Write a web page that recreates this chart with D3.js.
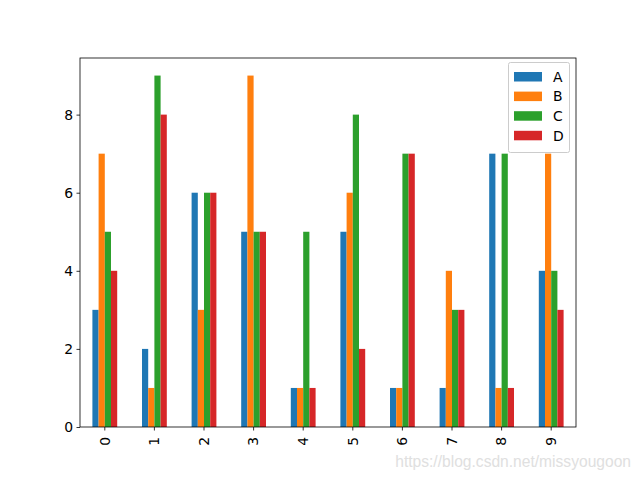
<!DOCTYPE html>
<html>
<head>
<meta charset="utf-8">
<script src="https://cdn.jsdelivr.net/npm/d3@7"></script>
<style>
  body { margin: 0; background: #fff; }
  text { font-family: "DejaVu Sans", sans-serif; }
</style>
</head>
<body>
<div id="root"></div>
<script>
const w = 640, h = 480;
const margin = { top: 58, bottom: 53, left: 80, right: 64 };

const categories = ["0", "1", "2", "3", "4", "5", "6", "7", "8", "9"];
const seriesNames = ["A", "B", "C", "D"];
const A = [3, 2, 6, 5, 1, 5, 1, 1, 7, 4];
const B = [7, 1, 3, 9, 1, 6, 1, 4, 1, 7];
const C = [5, 9, 6, 5, 5, 8, 7, 3, 7, 4];
const D = [4, 8, 6, 5, 1, 2, 7, 3, 1, 3];
const yTicks = [0, 2, 4, 6, 8];
const colors = ["#1f77b4", "#ff7f0e", "#2ca02c", "#d62728"];

const series = [A, B, C, D];

const svg = d3.select("#root").append("svg")
    .attr("width", w)
    .attr("height", h);

const xScale = d3.scaleBand()
    .domain(categories)
    .range([margin.left, w - margin.right])
    .paddingInner(0.5)
    .paddingOuter(0.25);

const xInner = d3.scaleBand()
    .domain(seriesNames)
    .range([0, xScale.bandwidth()]);

const yScale = d3.scaleLinear()
    .domain([0, 9 * 1.05])
    .range([h - margin.bottom, margin.top]);

// bars
series.forEach((vals, si) => {
    svg.append("g")
        .selectAll("rect")
        .data(vals)
        .enter()
        .append("rect")
        .attr("x", (d, i) => xScale(categories[i]) + xInner(seriesNames[si]))
        .attr("y", d => yScale(d))
        .attr("width", xInner.bandwidth())
        .attr("height", d => yScale(0) - yScale(d))
        .attr("fill", colors[si]);
});

// x-axis
const xAxis = svg.append("g")
    .attr("transform", "translate(0," + (h - margin.bottom) + ")")
    .call(d3.axisBottom(xScale).tickSizeOuter(0).tickSize(3.5).tickPadding(3.5));
xAxis.selectAll("text")
    .attr("transform", "rotate(-90)")
    .attr("x", -10)
    .attr("y", 0)
    .attr("dy", "0.35em")
    .attr("text-anchor", "end")
    .style("font-size", "13.9px")
    .attr("fill", "#000");

// y-axis
const yAxis = svg.append("g")
    .attr("transform", "translate(" + margin.left + ",0)")
    .call(d3.axisLeft(yScale).tickValues(yTicks).tickSizeOuter(0).tickSize(3.5).tickPadding(3.5));
yAxis.selectAll("text")
    .style("font-size", "13.9px")
    .attr("fill", "#000");

svg.selectAll(".domain").remove();
svg.selectAll(".tick line").attr("stroke", "#000").attr("stroke-width", 0.8);

// frame
svg.append("rect")
    .attr("x", margin.left)
    .attr("y", margin.top)
    .attr("width", w - margin.left - margin.right)
    .attr("height", h - margin.top - margin.bottom)
    .attr("fill", "none")
    .attr("stroke", "#000")
    .attr("stroke-width", 0.8);

// legend
const legend = svg.append("g").attr("id", "legend");
legend.append("rect")
    .attr("x", 508.5)
    .attr("y", 62.5)
    .attr("width", 61)
    .attr("height", 90)
    .attr("rx", 2)
    .attr("fill", "#fff")
    .attr("fill-opacity", 0.8)
    .attr("stroke", "#ccc")
    .attr("stroke-width", 1);
legend.selectAll("rect.key")
    .data(seriesNames)
    .enter()
    .append("rect")
    .attr("class", "key")
    .attr("x", 514)
    .attr("y", (d, i) => 72 + i * 19.6)
    .attr("width", 28)
    .attr("height", 9.5)
    .attr("fill", (d, i) => colors[i]);
legend.selectAll("text")
    .data(seriesNames)
    .enter()
    .append("text")
    .attr("x", 553)
    .attr("y", (d, i) => 77 + i * 19.6)
    .attr("dy", "0.35em")
    .style("font-size", "13.9px")
    .text(d => d);

// watermark
svg.append("text")
    .attr("x", 631)
    .attr("y", 467)
    .attr("text-anchor", "end")
    .style("font-family", "Arial, 'Liberation Sans', sans-serif")
    .style("font-size", "15.6px")
    .attr("fill", "#e0e0e0")
    .text("https://blog.csdn.net/missyougoon");
</script>
</body>
</html>
